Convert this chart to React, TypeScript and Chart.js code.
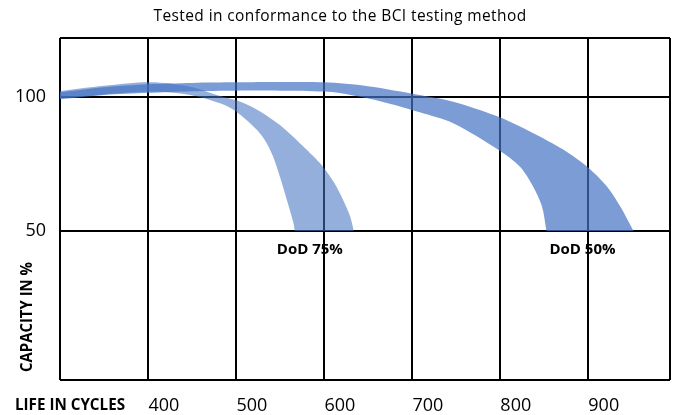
import React, { useEffect, useRef } from "react";
import { Chart, registerables } from "chart.js";

Chart.register(...registerables);

// ---- Data ----
const titleText = "Tested in conformance to the BCI testing method";
const xAxisTitle = "LIFE IN CYCLES";
const yAxisTitle = "CAPACITY IN %";

const xTickValues = [400, 500, 600, 700, 800, 900];
const yTickValues = [50, 100];
const xRange = [300, 993.5];
const yRange = [-5.4, 121.8];

// DoD 75% band (lighter)
const dod75OuterCycles = [300, 350, 403, 448, 482, 505, 528, 550, 573, 596, 611, 622, 630, 634];
const dod75OuterCapacity = [102.0, 104.0, 105.3, 103.7, 100.2, 98.1, 94.4, 89.4, 82.6, 75.1, 68.3, 61.5, 55.3, 50];
const dod75InnerCycles = [300, 350, 403, 448, 482, 500, 524, 535, 543, 550, 558, 565.5, 567];
const dod75InnerCapacity = [99.3, 100.8, 101.9, 100.6, 97.5, 94.5, 87.6, 82.7, 77.1, 70.2, 61.5, 52.9, 50];

// DoD 50% band (darker)
const dod50OuterCycles = [300, 350, 400, 450, 500, 550, 600, 650, 709, 747, 800, 842, 876, 900, 922, 937, 952];
const dod50OuterCapacity = [101.6, 103.5, 104.6, 105.1, 105.3, 105.4, 105.3, 103.9, 100.6, 98.1, 92.3, 85.7, 79.5, 73.7, 66.5, 59.1, 50];
const dod50InnerCycles = [300, 350, 400, 450, 500, 550, 600, 618, 664, 709, 747, 800, 823, 838, 848, 853];
const dod50InnerCapacity = [99.0, 100.6, 101.4, 102.0, 102.2, 102.2, 101.9, 101.3, 98.3, 94.2, 90.1, 79.9, 73.9, 66.5, 59.1, 50];

const bandLabels = ["DoD 75%", "DoD 50%"];
const bandLabelCycles = [584, 894];
const bandLabelCapacity = [43, 43];

// ---- Helpers ----
function bandShape(oc: number[], ov: number[], ic: number[], iv: number[]) {
  const pts: { x: number; y: number }[] = [];
  const outer = oc.map((c, i) => ({ x: c, y: ov[i] }));
  const inner = ic.map((c, i) => ({ x: c, y: iv[i] })).reverse();
  // duplicate corner points to keep the corners sharp
  pts.push(outer[0]);
  outer.forEach((p) => pts.push(p));
  pts.push(outer[outer.length - 1]);
  pts.push(inner[0]);
  inner.forEach((p) => pts.push(p));
  pts.push(inner[inner.length - 1]);
  return pts;
}

const textPlugin = {
  id: "customTexts",
  afterDraw(chart: any) {
    const { ctx, chartArea, scales } = chart;
    ctx.save();
    ctx.fillStyle = "#000";
    ctx.textBaseline = "middle";

    ctx.font = '15.5px "Open Sans"';
    ctx.textAlign = "center";
    try { ctx.letterSpacing = "0.4px"; } catch (e) {}
    ctx.fillText(titleText, chart.width / 2, 17, 374);
    try { ctx.letterSpacing = "0px"; } catch (e) {}

    ctx.font = 'bold 16px "Open Sans"';
    ctx.textAlign = "left";
    ctx.fillText(xAxisTitle, 15, chartArea.bottom + 25, 110);

    ctx.save();
    ctx.translate(27, 317);
    ctx.rotate(-Math.PI / 2);
    ctx.textAlign = "center";
    ctx.fillText(yAxisTitle, 0, 0, 110);
    ctx.restore();

    ctx.font = 'bold 15px "Open Sans"';
    ctx.textAlign = "center";
    bandLabels.forEach((t, i) => {
      const x = scales.x.getPixelForValue(bandLabelCycles[i]);
      const y = scales.y.getPixelForValue(bandLabelCapacity[i]);
      ctx.fillText(t, x, y, 70);
    });
    ctx.restore();
  },
};

export default function App() {
  const ref = useRef<HTMLCanvasElement>(null);

  useEffect(() => {
    if (!ref.current) return;
    Chart.defaults.font.family = '"Open Sans"';
    const chart = new Chart(ref.current, {
      type: "line",
      data: {
        datasets: [
          {
            label: "DoD 75%",
            data: bandShape(dod75OuterCycles, dod75OuterCapacity, dod75InnerCycles, dod75InnerCapacity),
            backgroundColor: "rgba(68,114,196,0.57)",
            borderWidth: 0,
            pointRadius: 0,
            fill: "shape",
            tension: 0.3,
          },
          {
            label: "DoD 50%",
            data: bandShape(dod50OuterCycles, dod50OuterCapacity, dod50InnerCycles, dod50InnerCapacity),
            backgroundColor: "rgba(68,114,196,0.70)",
            borderWidth: 0,
            pointRadius: 0,
            fill: "shape",
            tension: 0.3,
          },
        ],
      },
      options: {
        responsive: false,
        animation: false,
        devicePixelRatio: 1,
        layout: { padding: { left: 0, right: 10, top: 38, bottom: 0 } },
        plugins: {
          legend: { display: false },
          tooltip: { enabled: false },
          title: { display: false },
        },
        scales: {
          x: {
            type: "linear",
            min: xRange[0],
            max: xRange[1],
            afterBuildTicks: (s: any) => {
              s.ticks = [xRange[0], ...xTickValues, xRange[1]].map((v) => ({ value: v }));
            },
            afterFit: (s: any) => {
              s.height = 35;
              s.paddingLeft = 0;
              s.paddingRight = 0;
            },
            grid: { color: "#000", lineWidth: 2, drawTicks: false },
            border: { display: false },
            ticks: {
              autoSkip: false,
              maxRotation: 0,
              padding: 15,
              labelOffset: 16,
              color: "#000",
              font: { size: 18, family: '"Open Sans"' },
              callback: (v: any) => (xTickValues.includes(v) ? String(v) : ""),
            },
          },
          y: {
            type: "linear",
            min: yRange[0],
            max: yRange[1],
            afterBuildTicks: (s: any) => {
              s.ticks = [yRange[0], ...yTickValues, yRange[1]].map((v) => ({ value: v }));
            },
            afterFit: (s: any) => {
              s.width = 60;
              s.paddingTop = 0;
              s.paddingBottom = 0;
            },
            grid: { color: "#000", lineWidth: 2, drawTicks: false },
            border: { display: false },
            ticks: {
              autoSkip: false,
              padding: 14,
              color: "#000",
              font: { size: 18, family: '"Open Sans"' },
              callback: (v: any) => (yTickValues.includes(v) ? String(v) : ""),
            },
          },
        },
      },
      plugins: [textPlugin],
    } as any);
    return () => chart.destroy();
  }, []);

  return (
    <div style={{ position: "absolute", left: 0, top: 0, width: 680, height: 415, background: "#fff" }}>
      <canvas ref={ref} width={680} height={415} style={{ width: 680, height: 415, display: "block" }} />
    </div>
  );
}
